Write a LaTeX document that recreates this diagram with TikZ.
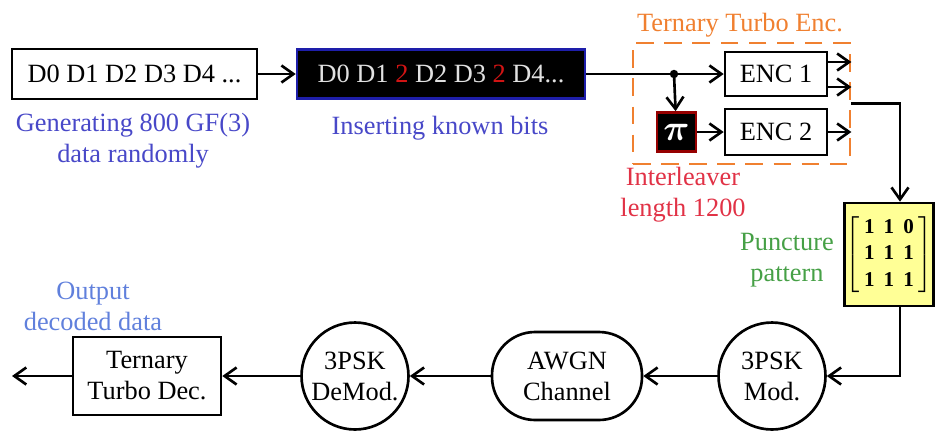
\documentclass[tikz,border=0pt]{standalone}
\usepackage{amsmath}
\usepackage{fontspec}
\setmainfont{Liberation Serif}
\usepackage{tikz}
\usetikzlibrary{arrows,arrows.meta}

\definecolor{lblblue}{RGB}{72,72,200}
\definecolor{outblue}{RGB}{96,128,220}
\definecolor{insblue}{RGB}{30,30,170}
\definecolor{txtgray}{RGB}{225,225,225}
\definecolor{twored}{RGB}{210,20,20}
\definecolor{encorange}{RGB}{240,128,48}
\definecolor{pired}{RGB}{150,0,0}
\definecolor{ilvred}{RGB}{225,50,70}
\definecolor{puncgreen}{RGB}{70,160,70}
\definecolor{puncyellow}{RGB}{255,255,150}

\begin{document}
\begin{tikzpicture}[x=0.02cm,y=-0.02cm,line width=1.5pt,
  >={Straight Barb[length=2.4mm,width=3.4mm]},
  font=\fontsize{15}{17.6}\selectfont]
\tikzstyle{blk} = [draw, rectangle, inner sep=0pt, align=center]
\tikzstyle{crc} = [draw, circle, minimum size=2.14cm, inner sep=0pt, align=center]
\tikzstyle{lbl} = [inner sep=0pt, align=center]
\useasboundingbox (0,0) rectangle (936,430);

% source and known bits
\node[blk, minimum width=4.9cm, minimum height=1cm] (gen) at (134.5,74) {D0 D1 D2 D3 D4 ...};
\node[lbl, text=lblblue] (genlbl) at (133,141) {Generating 800 GF(3)\\data randomly};
\node[blk, fill=black, draw=insblue, text=txtgray, minimum width=5.76cm, minimum height=0.98cm] (ins) at (441,74)
  {D0 D1 \textcolor{twored}{2} D2 D3 \textcolor{twored}{2} D4...};
\node[lbl, text=lblblue] (inslbl) at (440,128) {Inserting known bits};

% turbo encoder
\node[blk, draw=encorange, line width=1.6pt, dash pattern=on 10pt off 6pt, minimum width=4.34cm, minimum height=2.42cm] (turbo) at (741.5,103.5) {};
\node[lbl, text=encorange] (turbolbl) at (740,25) {Ternary Turbo Enc.};
\node[blk, minimum width=2.04cm, minimum height=0.88cm] (enc1) at (776,74) {ENC 1};
\node[blk, minimum width=2.04cm, minimum height=0.92cm] (enc2) at (776,132) {ENC 2};
\node[blk, fill=black, draw=pired, text=white, minimum size=0.78cm] (pi) at (676.5,132)
  {\fontsize{20}{20}\selectfont$\boldsymbol{\pi}$};
\coordinate (split) at (674,74);
\node[lbl, text=ilvred] (ilvlbl) at (683,195) {Interleaver\\length 1200};
\coordinate (e1a) at ([yshift=0.24cm]enc1.east);
\coordinate (e1b) at ([yshift=-0.26cm]enc1.east);

% puncturing
\node[blk, fill=puncyellow, minimum width=1.78cm, minimum height=2.06cm] (punc) at (889,254.5)
  {\fontsize{12}{15}\selectfont\arraycolsep=2.6pt
   $\left[\begin{array}{ccc}\textbf{1}&\textbf{1}&\textbf{0}\\ \textbf{1}&\textbf{1}&\textbf{1}\\ \textbf{1}&\textbf{1}&\textbf{1}\end{array}\right]$};
\node[lbl, text=puncgreen] (punclbl) at (787,260) {Puncture\\pattern};

% channel and receiver
\node[crc] (mod) at (772,376) {3PSK\\Mod.};
\node[draw, rectangle, rounded corners=0.86cm, minimum width=3cm, minimum height=1.76cm, inner sep=0pt, align=center] (awgn) at (567,376) {AWGN\\Channel};
\node[crc] (demod) at (355,376) {3PSK\\DeMod.};
\node[blk, minimum width=2.96cm, minimum height=1.56cm] (dec) at (147,376) {Ternary\\Turbo Dec.};
\node[lbl, text=outblue] (outlbl) at (93,306) {Output\\decoded data};
\coordinate (out) at (12,376);

\draw[->] (gen) -- (ins);
\draw (ins) -- (split);
\draw[->] (split) -- (enc1);
\fill (split) circle (2.4pt);
\draw[->] (split) -- (pi);
\draw[->] (pi) -- (enc2);
\draw[->] (e1a) -- (e1a -| turbo.east);
\draw[->] (e1b) -- (e1b -| turbo.east);
\draw[->] (enc2.east) -- (enc2.east -| turbo.east);
\draw[->] (turbo.east) -| ([xshift=0.22cm]punc.north);
\draw[->] ([xshift=0.22cm]punc.south) |- (mod.east);
\draw[->] (mod) -- (awgn);
\draw[->] (awgn) -- (demod);
\draw[->] (demod) -- (dec);
\draw[->] (dec) -- (out);
\end{tikzpicture}
\end{document}
